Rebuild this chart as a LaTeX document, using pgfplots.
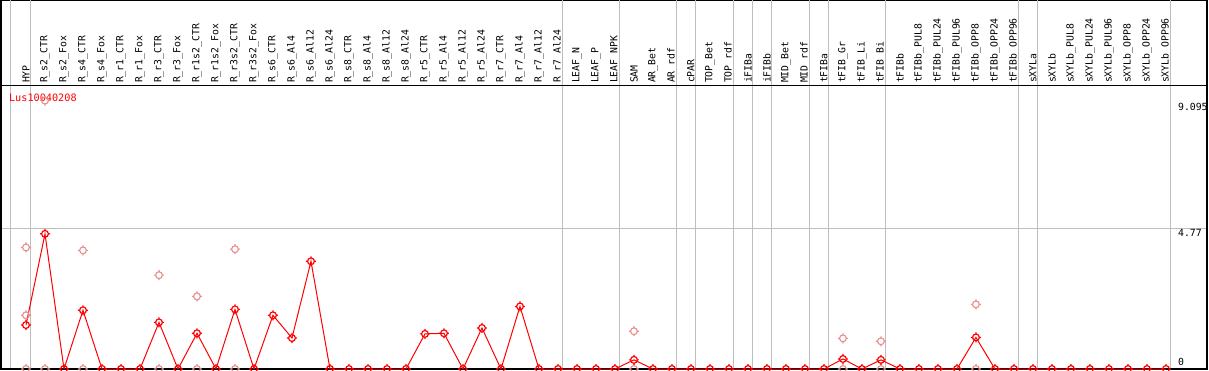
\documentclass[border=0pt]{standalone}
\usepackage{pgfplots}
\pgfplotsset{compat=1.18}
\usepackage{fontspec}
\setmainfont{DejaVu Sans}
\setmonofont{DejaVu Sans Mono}
\definecolor{lightred}{RGB}{232,140,140}
\definecolor{gridgray}{RGB}{190,190,190}
\pgfdeclareplotmark{tcirc}{%
  \pgfpathcircle{\pgfpointorigin}{3.4pt}%
  \pgfpathmoveto{\pgfpoint{0pt}{3.4pt}}\pgfpathlineto{\pgfpoint{0pt}{5pt}}%
  \pgfpathmoveto{\pgfpoint{0pt}{-3.4pt}}\pgfpathlineto{\pgfpoint{0pt}{-5pt}}%
  \pgfpathmoveto{\pgfpoint{3.4pt}{0pt}}\pgfpathlineto{\pgfpoint{5pt}{0pt}}%
  \pgfpathmoveto{\pgfpoint{-3.4pt}{0pt}}\pgfpathlineto{\pgfpoint{-5pt}{0pt}}%
  \pgfusepathqstroke}
\newcommand{\lblfont}{\ttfamily\fontsize{9.8pt}{11pt}\selectfont}
\pgfplotstableread{
x y
0 1.49
1 4.58
2 0
3 1.99
4 0
5 0
6 0
7 1.58
8 0
9 1.21
10 0
11 2.02
12 0
13 1.82
14 1.05
15 3.65
16 0
17 0
18 0
19 0
20 0
21 1.19
22 1.21
23 0
24 1.39
25 0
26 2.12
27 0
28 0
29 0
30 0
31 0
32 0.31
33 0
34 0
35 0
36 0
37 0
38 0
39 0
40 0
41 0
42 0
43 0.34
44 0
45 0.31
46 0
47 0
48 0
49 0
50 1.07
51 0
52 0
53 0
54 0
55 0
56 0
57 0
58 0
59 0
60 0
}\meandata
\pgfplotstableread{
x y
0 4.12
0 1.82
0 0
1 9.095
1 0
3 4.02
3 0
7 3.18
7 0
9 2.46
9 0
11 4.06
11 0
32 1.28
32 0
43 1.04
43 0
45 0.94
45 0
50 2.19
50 0
}\repdata
\begin{document}
\begin{tikzpicture}
\useasboundingbox (0,0) rectangle (1209pt,370pt);
% label area
\begin{axis}[
  at={(1pt,284.3pt)}, anchor=south west,
  scale only axis, width=1206pt, height=85.2pt,
  xmin=-1.316, xmax=62.16, ymin=0, ymax=1,
  ytick=\empty,
  xtick={0,...,60},
  xticklabels={HYP,R\_s2\_CTR,R\_s2\_Fox,R\_s4\_CTR,R\_s4\_Fox,R\_r1\_CTR,R\_r1\_Fox,R\_r3\_CTR,R\_r3\_Fox,R\_r1s2\_CTR,R\_r1s2\_Fox,R\_r3s2\_CTR,R\_r3s2\_Fox,R\_s6\_CTR,R\_s6\_Al4,R\_s6\_Al12,R\_s6\_Al24,R\_s8\_CTR,R\_s8\_Al4,R\_s8\_Al12,R\_s8\_Al24,R\_r5\_CTR,R\_r5\_Al4,R\_r5\_Al12,R\_r5\_Al24,R\_r7\_CTR,R\_r7\_Al4,R\_r7\_Al12,R\_r7\_Al24,LEAF\_N,LEAF\_P,LEAF\_NPK,SAM,AR\_Bet,AR\_rdf,cPAR,TOP\_Bet,TOP\_rdf,iFIBa,iFIBb,MID\_Bet,MID\_rdf,tFIBa,tFIB\_Gr,tFIB\_Li,tFIB\_Bi,tFIBb,tFIBb\_PUL8,tFIBb\_PUL24,tFIBb\_PUL96,tFIBb\_OPP8,tFIBb\_OPP24,tFIBb\_OPP96,sXYLa,sXYLb,sXYLb\_PUL8,sXYLb\_PUL24,sXYLb\_PUL96,sXYLb\_OPP8,sXYLb\_OPP24,sXYLb\_OPP96},
  xticklabel style={rotate=90, anchor=west, font=\lblfont, inner sep=2.5pt},
  major tick length=0pt,
  extra x ticks={-0.8,0.24,28.24,31.24,34.24,35.24,37.24,38.24,39.24,41.24,42.24,45.24,52.24,53.24,60.24},
  extra x tick style={grid=major, xticklabel={}},
  major grid style={gridgray, line width=1.1pt},
  axis line style={line width=1.2pt},
]
\end{axis}
% plot area
\begin{axis}[
  at={(1pt,1pt)}, anchor=south west,
  scale only axis, width=1206pt, height=283.3pt,
  xmin=-1.316, xmax=62.16, ymin=0, ymax=9.60,
  xtick={-0.8,0.24,28.24,31.24,34.24,35.24,37.24,38.24,39.24,41.24,42.24,45.24,52.24,53.24,60.24},
  xticklabels={}, xmajorgrids,
  ytick={4.77}, yticklabels={}, ymajorgrids,
  major grid style={gridgray, line width=1.1pt},
  major tick length=0pt,
  axis line style={line width=1.2pt},
]
\addplot[only marks, mark=tcirc, draw=lightred, line width=1.1pt] table[x=x,y=y] {\repdata};
\addplot[red, line width=1pt, mark=tcirc, mark options={solid, line width=1.2pt}] table[x=x,y=y] {\meandata};
\node[anchor=base west, inner sep=0pt, text=red, font=\ttfamily\fontsize{10.2pt}{11pt}\selectfont] at (axis cs:-0.9,9.08) {Lus10040208};
\node[anchor=north west, inner sep=0pt, font=\lblfont] at (axis cs:60.63,9.02) {9.095};
\node[anchor=north west, inner sep=0pt, font=\lblfont] at (axis cs:60.63,4.75) {4.77};
\node[anchor=south west, inner sep=0pt, font=\lblfont] at (axis cs:60.63,0.10) {0};
\end{axis}
\end{tikzpicture}
\end{document}
